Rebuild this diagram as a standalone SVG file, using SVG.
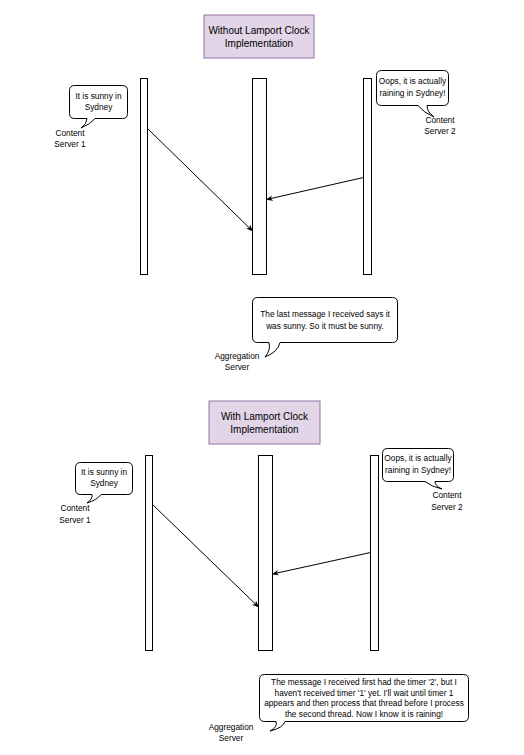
<svg xmlns="http://www.w3.org/2000/svg" width="524" height="755" viewBox="0 0 524 755">
<defs>
<marker id="arr" viewBox="0 0 10 10" refX="9" refY="5" markerWidth="7" markerHeight="7" orient="auto" markerUnits="userSpaceOnUse">
<path d="M0,1 L10,5 L0,9 L3,5 Z" fill="#000"/>
</marker>
<style>
.title{fill:#e1d5e7;stroke:#9673a6;stroke-width:1}
.life{fill:#fff;stroke:#000;stroke-width:1}
.bub{fill:#fff;stroke:#000;stroke-width:1}
.t{font-family:"Liberation Sans",Arial,sans-serif;font-size:8.3px;fill:#000;text-anchor:middle}
.tt{font-family:"Liberation Sans",Arial,sans-serif;font-size:10px;fill:#000;text-anchor:middle}
.msg{stroke:#000;stroke-width:1;fill:none;marker-end:url(#arr)}
</style>
</defs>
<rect width="524" height="755" fill="#fff"/>

<!-- Top section -->
<g id="title1">
<rect class="title" x="204" y="15" width="110" height="43"/>
<text class="tt" x="259" y="34">Without Lamport Clock</text>
<text class="tt" x="259" y="47">Implementation</text>
</g>
<g id="cs1-top"><rect class="life" x="140.5" y="78.5" width="7" height="196"/></g>
<g id="agg-top"><rect class="life" x="252.5" y="78.5" width="14" height="196"/></g>
<g id="cs2-top"><rect class="life" x="363.5" y="78.5" width="8" height="196"/></g>

<g id="bubble1">
<path class="bub" d="M74.5,85.5 H122.5 Q127.5,85.5 127.5,90.5 V113.5 Q127.5,118.5 122.5,118.5 H95 Q91,124 81,128 Q87,124 87,118.5 H74.5 Q69.5,118.5 69.5,113.5 V90.5 Q69.5,85.5 74.5,85.5 Z"/>
<text class="t" x="98.5" y="99">It is sunny in</text>
<text class="t" x="98.5" y="110">Sydney</text>
<text class="t" x="70" y="136">Content</text>
<text class="t" x="70" y="147">Server 1</text>
</g>
<g id="bubble2">
<path class="bub" d="M381.5,70.5 H443.5 Q448.5,70.5 448.5,75.5 V100.5 Q448.5,105.5 443.5,105.5 H427 Q427,112 434,117 Q424,113 418,105.5 H381.5 Q376.5,105.5 376.5,100.5 V75.5 Q376.5,70.5 381.5,70.5 Z"/>
<text class="t" x="412.5" y="84">Oops, it is actually</text>
<text class="t" x="412.5" y="96">raining in Sydney!</text>
<text class="t" x="440" y="123">Content</text>
<text class="t" x="440" y="134">Server 2</text>
</g>
<g id="bubble3">
<path class="bub" d="M257.5,297.5 H392.5 Q397.5,297.5 397.5,302.5 V337.5 Q397.5,342.5 392.5,342.5 H280 Q278,352 265,357 Q271,350 269,342.5 H257.5 Q252.5,342.5 252.5,337.5 V302.5 Q252.5,297.5 257.5,297.5 Z"/>
<text class="t" x="325" y="317">The last message I received says it</text>
<text class="t" x="325" y="329">was sunny. So it must be sunny.</text>
<text class="t" x="237" y="359">Aggregation</text>
<text class="t" x="237" y="370">Server</text>
</g>

<!-- Bottom section -->
<g id="title2">
<rect class="title" x="209" y="401" width="111" height="43"/>
<text class="tt" x="264.5" y="420">With Lamport Clock</text>
<text class="tt" x="264.5" y="433">Implementation</text>
</g>
<g id="cs1-bot"><rect class="life" x="145.5" y="455.5" width="7" height="195"/></g>
<g id="agg-bot"><rect class="life" x="258.5" y="455.5" width="14" height="195"/></g>
<g id="cs2-bot"><rect class="life" x="370.5" y="455.5" width="8" height="195"/></g>

<g id="bubble4">
<path class="bub" d="M80.5,462.5 H127.5 Q132.5,462.5 132.5,467.5 V489.5 Q132.5,494.5 127.5,494.5 H101 Q97,500 87,503 Q93,499 92,494.5 H80.5 Q75.5,494.5 75.5,489.5 V467.5 Q75.5,462.5 80.5,462.5 Z"/>
<text class="t" x="104" y="475">It is sunny in</text>
<text class="t" x="104" y="486">Sydney</text>
<text class="t" x="75" y="511">Content</text>
<text class="t" x="75" y="523">Server 1</text>
</g>
<g id="bubble5">
<path class="bub" d="M387.5,448.5 H448.5 Q453.5,448.5 453.5,453.5 V476.5 Q453.5,481.5 448.5,481.5 H435 Q435,486 442,489 Q432,487 425,481.5 H387.5 Q382.5,481.5 382.5,476.5 V453.5 Q382.5,448.5 387.5,448.5 Z"/>
<text class="t" x="418" y="461">Oops, it is actually</text>
<text class="t" x="418" y="473">raining in Sydney!</text>
<text class="t" x="447" y="498">Content</text>
<text class="t" x="447" y="510">Server 2</text>
</g>
<g id="bubble6">
<path class="bub" d="M264.5,674.5 H463.5 Q468.5,674.5 468.5,679.5 V716.5 Q468.5,721.5 463.5,721.5 H285 Q283,728 270,731 Q278,727 276,721.5 H264.5 Q259.5,721.5 259.5,716.5 V679.5 Q259.5,674.5 264.5,674.5 Z"/>
<text class="t" x="364" y="685">The message I received first had the timer '2', but I</text>
<text class="t" x="364" y="695.5">haven't received timer '1' yet. I'll wait until timer 1</text>
<text class="t" x="364" y="706">appears and then process that thread before I process</text>
<text class="t" x="364" y="716.5">the second thread. Now I know it is raining!</text>
<text class="t" x="231" y="730">Aggregation</text>
<text class="t" x="231" y="741">Server</text>
</g>

<g id="connectors">
<line class="msg" x1="147.5" y1="128.5" x2="252.5" y2="231"/>
<line class="msg" x1="363.5" y1="177.5" x2="266.5" y2="199.5"/>
<line class="msg" x1="152.5" y1="504.5" x2="258.5" y2="607"/>
<line class="msg" x1="370.5" y1="552.5" x2="272.5" y2="574"/>
</g>
</svg>
